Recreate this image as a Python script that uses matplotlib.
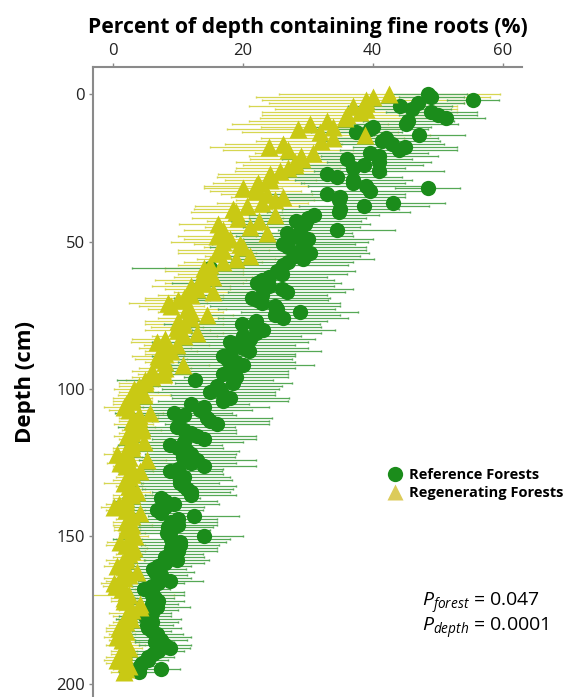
import numpy as np
import matplotlib
matplotlib.use('Agg')
import matplotlib.pyplot as plt
from matplotlib.lines import Line2D

plt.rcParams['font.family'] = ['Open Sans', 'DejaVu Sans']
plt.rcParams['mathtext.fontset'] = 'custom'
plt.rcParams['mathtext.rm'] = 'Open Sans'
plt.rcParams['mathtext.it'] = 'Open Sans:italic'

# глубина, см (шаг 1 см)
depth = np.arange(0, 197)

# Reference forests: доля глубины с тонкими корнями (%) и погрешность
ref_pct = [48.5, 49, 55.4, 47, 44.2, 46, 49, 50, 51.3, 45.5,
           45.2, 40, 39.6, 37.5, 47.2, 42, 41.4, 43, 45, 44,
           39.6, 41, 36, 41, 38.7, 37, 41, 33, 34.5, 37,
           37, 39, 48.5, 39.6, 33, 35, 34.8, 43.1, 38.7, 35,
           34.8, 31, 30, 28.3, 29.6, 29, 34.5, 26.8, 28, 30,
           29.3, 26.3, 27, 29, 30.4, 28, 29.3, 27, 26.3, 15,
           25.3, 26, 24, 23, 22.2, 24, 26, 26.8, 23, 21.5,
           22.2, 23, 25, 25.3, 28.8, 25, 26.3, 22, 19.9, 22,
           23.2, 22, 20, 21.2, 18.1, 19, 20, 21, 18, 17,
           17.6, 19, 20, 18.1, 18, 17, 19, 12.7, 18.6, 16,
           16.6, 15, 17, 18.1, 17, 12, 14, 13.5, 9.4, 11,
           14.5, 15, 16.1, 9.9, 11, 12, 13, 14, 11, 8.9,
           10, 11.5, 12, 10.9, 13, 12, 14, 10, 8.9, 10,
           11, 10.4, 10.4, 11, 11.5, 12, 12, 7.4, 8, 9.4,
           8, 6.9, 7.5, 12.5, 10, 9, 10, 8.5, 9, 8.4,
           14, 9, 10.4, 10.4, 9, 10, 8.9, 8, 9.9, 8,
           7, 6.3, 6.5, 7.4, 7, 8.9, 7, 6, 4.8, 6,
           6, 6.5, 7, 6, 6.9, 6, 6, 5, 5.5, 6,
           5.3, 5.5, 6, 6.9, 7, 7.5, 6.5, 8, 8.9, 7,
           6.3, 5.5, 5.5, 4.5, 4.3, 7.4, 4]
ref_err = [6, 5, 4, 7, 8, 6, 7, 6, 6, 7,
           8, 9, 9, 7, 7, 8, 9, 8, 8, 9,
           9, 9, 10, 8, 9, 8, 10, 9, 10, 9,
           8, 9, 5, 9, 12, 10, 9, 8, 10, 9,
           11, 10, 9, 10, 10, 9, 9, 10, 9, 10,
           10, 11, 12, 10, 9, 10, 11, 10, 10, 12,
           12, 10, 9, 11, 13, 10, 11, 9, 10, 12,
           11, 12, 10, 9, 9, 10, 10, 11, 12, 10,
           11, 10, 9, 10, 12, 9, 10, 11, 10, 11,
           10, 9, 11, 10, 9, 10, 8, 12, 9, 10,
           9, 10, 8, 9, 10, 9, 10, 8, 9, 8,
           10, 9, 8, 9, 8, 7, 9, 8, 9, 8,
           7, 8, 7, 8, 9, 7, 8, 7, 8, 7,
           7, 8, 6, 8, 7, 6, 7, 6, 8, 7,
           6, 7, 6, 7, 6, 7, 6, 7, 6, 5,
           6, 9, 7, 6, 7, 6, 5, 6, 5, 6,
           5, 5, 6, 4, 5, 5, 4, 3, 4, 5,
           5, 3, 4, 4, 5, 4, 3, 4, 5, 4,
           4, 5, 3, 4, 5, 4, 3, 4, 3, 4,
           3, 4, 3, 3, 4, 3, 3]

# Regenerating forests
reg_pct = [42.6, 40, 39, 39, 37, 39, 38, 36, 35.7, 33,
           30.4, 33.9, 28.6, 31.9, 38.8, 33.9, 32, 26.3, 24, 27,
           30.9, 29, 29.2, 28, 28, 27, 25.8, 24.3, 24, 24.3,
           22.4, 22, 20.1, 22, 23.7, 26.3, 25, 23, 20.7, 18.6,
           19, 25, 19.3, 22.6, 16.3, 21.2, 17, 23.7, 16.1, 18,
           17, 19.6, 20, 17, 16, 21.2, 19, 17, 15, 14,
           14, 15, 15.5, 13.5, 14, 12, 13, 15.5, 12, 11,
           10, 8.6, 9, 11.5, 12, 14.5, 12, 10, 11, 9.9,
           10, 13, 11, 8, 6.9, 9.9, 8, 9, 8, 7,
           7.4, 8, 10.9, 8, 6, 7.9, 6, 5, 5, 4,
           3.3, 4, 4.8, 3, 3, 2, 1.7, 2.5, 5.8, 4,
           4, 3, 3.3, 4.5, 4.5, 3, 2.3, 3, 4.8, 3,
           3, 2, 0.7, 2.5, 5.3, 1.2, 2, 3, 4.3, 3,
           2.5, 2, 1.7, 2.5, 3, 3.8, 3, 2, 2, 1,
           0.2, 2, 4.3, 3, 2.5, 2, 3, 2.3, 2.3, 3,
           3.5, 2.5, 1.2, 2, 3.3, 3, 2.5, 2, 2, 1.5,
           0.7, 2, 3.8, 2.5, 1.7, 1, 0.2, 0.5, 1.5, 2,
           2.5, 1.7, 1.7, 4.3, 4.3, 3, 2.5, 2, 2.8, 2,
           1.5, 1, 2, 1.5, 0.7, 1.5, 2, 2, 2.5, 1.7,
           1.7, 1, 0.7, 2, 2.5, 2, 1.7]
reg_err = [17, 18, 16, 15, 16, 14, 15, 13, 13, 12,
           12, 11, 11, 12, 10, 11, 10, 9, 9, 10,
           9, 8, 8, 9, 8, 8, 7, 8, 8, 7,
           7, 8, 6, 7, 7, 8, 6, 7, 8, 6,
           7, 6, 7, 8, 6, 7, 6, 7, 6, 7,
           8, 7, 6, 7, 6, 7, 6, 6, 5, 6,
           6, 5, 6, 7, 6, 6, 5, 6, 5, 6,
           5, 6, 5, 6, 5, 4, 5, 5, 6, 4,
           5, 4, 5, 5, 4, 5, 4, 4, 3, 4,
           4, 3, 4, 4, 3, 4, 3, 3, 4, 3,
           3, 3, 4, 3, 3, 2, 3, 3, 2, 3,
           3, 2, 3, 2, 3, 2, 2, 2, 3, 2,
           3, 2, 2, 2, 3, 2, 2, 3, 2, 2,
           2, 2, 3, 2, 2, 2, 3, 2, 2, 2,
           2, 3, 2, 2, 2, 2, 3, 2, 2, 2,
           2, 2, 2, 3, 2, 2, 2, 2, 3, 2,
           2, 2, 2, 2, 3, 2, 2, 2, 2, 2,
           7, 2, 2, 3, 2, 2, 3, 2, 2, 2,
           2, 2, 3, 2, 2, 2, 2, 3, 2, 2,
           2, 2, 2, 3, 2, 2, 2]

green = '#1b8c1b'
yellow = '#c9c914'

fig = plt.figure(figsize=(5.86, 6.97), dpi=100)
ax = fig.add_axes([93 / 586, 0.0, (522 - 93) / 586, 1 - 67 / 697])

# погрешности
ax.errorbar(reg_pct, depth, xerr=reg_err, fmt='none', ecolor='#d6d650',
            elinewidth=0.9, capsize=1.0, zorder=1)
ax.errorbar(ref_pct, depth, xerr=ref_err, fmt='none', ecolor='#55a855',
            elinewidth=0.9, capsize=1.0, zorder=2)
# маркеры
ax.plot(ref_pct, depth, 'o', color=green, ms=11, mec='none', zorder=3)
ax.plot(reg_pct, depth, '^', color=yellow, ms=13, mec='none', zorder=4)

ax.set_xlim(-3, 63)
ax.set_ylim(204.5, -9.2)
ax.set_xticks([0, 20, 40, 60])
ax.set_yticks([0, 50, 100, 150, 200])
ax.xaxis.tick_top()
ax.xaxis.set_label_position('top')
ax.spines['right'].set_visible(False)
ax.spines['bottom'].set_visible(False)
for s in ['top', 'left']:
    ax.spines[s].set_color('#8a8a8a')
    ax.spines[s].set_linewidth(1.5)
ax.tick_params(axis='both', labelsize=12, colors='#8a8a8a', labelcolor='#222222',
               length=3, width=1, pad=3)

ax.set_xlabel('Percent of depth containing fine roots (%)', fontsize=15.2,
              fontweight='bold', labelpad=7)
ax.set_ylabel('Depth (cm)', fontsize=16, fontweight='bold', labelpad=14)

handles = [Line2D([], [], marker='o', ls='none', color=green, ms=11, mec='none'),
           Line2D([], [], marker='^', ls='none', color='#dccb5a', ms=12, mec='none')]
leg = ax.legend(handles, ['Reference Forests', 'Regenerating Forests'],
                loc='upper left', bbox_to_anchor=(376 / 586, 1 - 455 / 697),
                bbox_transform=fig.transFigure, frameon=False,
                handlelength=0.8, handletextpad=0.55, labelspacing=0.25,
                prop={'weight': 'bold', 'size': 10.5})

fig.text(422 / 586, 1 - 603 / 697, r'$P_{forest}$ = 0.047', fontsize=14,
         va='center', ha='left')
fig.text(422 / 586, 1 - 628 / 697, r'$P_{depth}$ = 0.0001', fontsize=14,
         va='center', ha='left')

fig.savefig('out.png', dpi=100)
